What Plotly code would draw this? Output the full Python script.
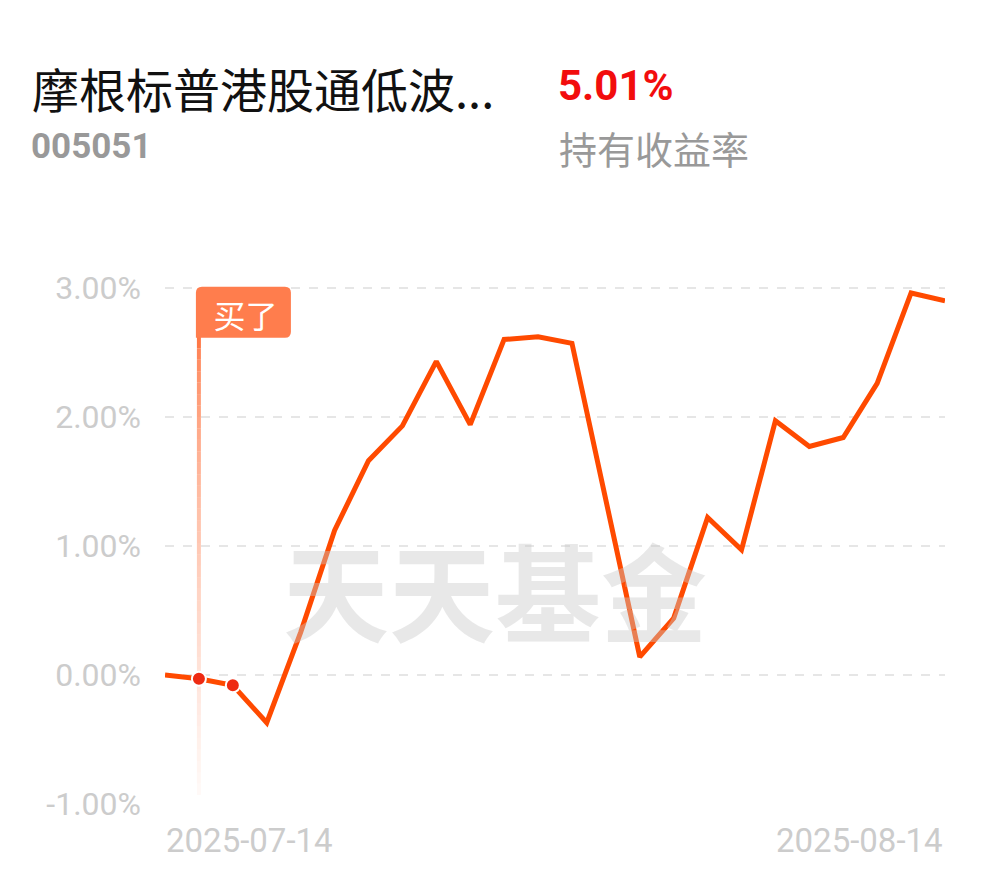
import plotly.graph_objects as go

dates = ["2025-07-14","2025-07-15","2025-07-16","2025-07-17","2025-07-18",
         "2025-07-21","2025-07-22","2025-07-23","2025-07-24","2025-07-25",
         "2025-07-28","2025-07-29","2025-07-30","2025-07-31","2025-08-01",
         "2025-08-04","2025-08-05","2025-08-06","2025-08-07","2025-08-08",
         "2025-08-11","2025-08-12","2025-08-13","2025-08-14"]
returns = [0.00, -0.03, -0.08, -0.37, 0.33, 1.12, 1.66, 1.93, 2.43, 1.94,
           2.60, 2.62, 2.57, 1.36, 0.14, 0.44, 1.22, 0.97, 1.97, 1.77,
           1.84, 2.26, 2.96, 2.90]
y_ticks = [-1, 0, 1, 2, 3]
y_tick_labels = ["-1.00%", "0.00%", "1.00%", "2.00%", "3.00%"]
buy_index = 1
dot_indices = [1, 2]
fund_name = "摩根标普港股通低波..."
fund_code = "005051"
hold_return = "5.01%"
hold_label = "持有收益率"
buy_label = "买了"
watermark = "天天基金"

idx = list(range(len(dates)))
font_cn = "Noto Sans CJK SC, Roboto, sans-serif"

# page offset (body margin 8px) compensated via margins
PW, PH = 780, 542
def px(xp):  # page x -> paper
    return (xp - 165) / PW
def py(yp):  # page y -> paper
    return (804 - yp) / PH

shapes = []
# gradient buy line (segments with fading opacity)
top_y, bot_y = 2.62, -0.93
n = 40
for i in range(n):
    y0 = top_y - (top_y - bot_y) * i / n
    y1 = top_y - (top_y - bot_y) * (i + 1) / n
    op = max(0.03, 1 - (i / n) ** 0.6 * 0.97)
    shapes.append(dict(type="line", xref="x", yref="y", x0=buy_index, x1=buy_index,
                       y0=y0, y1=y1, line=dict(color="rgba(255,120,70,%.3f)" % op, width=4),
                       layer="below"))

# rounded label box anchored at buy point / 3% line (pixel sized)
r = 6
x0b, x1b, y0b, y1b = -3, 92, -50, 1
path = (f"M {x0b+r},{y1b} L {x1b-r},{y1b} Q {x1b},{y1b} {x1b},{y1b-r} "
        f"L {x1b},{y0b+r} Q {x1b},{y0b} {x1b-r},{y0b} L {x0b},{y0b} "
        f"L {x0b},{y1b-r} Q {x0b},{y1b} {x0b+r},{y1b} Z")
shapes.append(dict(type="path", xref="x", yref="y", xsizemode="pixel", ysizemode="pixel",
                   xanchor=buy_index, yanchor=3.0, path=path,
                   fillcolor="#ff7d4d", line=dict(width=0), layer="above"))

fig = go.Figure()
fig.add_trace(go.Scatter(x=idx, y=returns, mode="lines",
                         line=dict(color="#ff4a00", width=5), hoverinfo="skip"))
fig.add_trace(go.Scatter(x=[idx[i] for i in dot_indices], y=[returns[i] for i in dot_indices],
                         mode="markers",
                         marker=dict(color="#ee2a12", size=14, line=dict(color="white", width=2)),
                         hoverinfo="skip"))

annotations = [
    dict(text=fund_name, xref="paper", yref="paper", x=px(30), y=py(87),
         xanchor="left", yanchor="middle", showarrow=False,
         font=dict(family=font_cn, size=47, color="#111111")),
    dict(text="<b>" + fund_code + "</b>", xref="paper", yref="paper", x=px(29), y=py(146),
         xanchor="left", yanchor="middle", showarrow=False,
         font=dict(family="Roboto, sans-serif", size=35, color="#999999")),
    dict(text="<b>" + hold_return + "</b>", xref="paper", yref="paper", x=px(556), y=py(86),
         xanchor="left", yanchor="middle", showarrow=False,
         font=dict(family="Roboto, sans-serif", size=42, color="#f20d0d")),
    dict(text=hold_label, xref="paper", yref="paper", x=px(557), y=py(147),
         xanchor="left", yanchor="middle", showarrow=False,
         font=dict(family=font_cn, size=38, color="#999999")),
    dict(text="<b>" + watermark + "</b>", xref="paper", yref="paper", x=px(495), y=py(588),
         xanchor="center", yanchor="middle", showarrow=False,
         font=dict(family=font_cn, size=106, color="rgba(200,200,200,0.42)")),
    dict(text=buy_label, xref="x", yref="y", x=buy_index, y=3.0,
         xanchor="left", yanchor="top", showarrow=False,
         xshift=-3, yshift=1, width=95, height=50, align="center", valign="middle",
         font=dict(family=font_cn, size=32, color="white")),
    dict(text=dates[0], xref="x", yref="paper", x=0, y=py(840),
         xanchor="left", yanchor="middle", showarrow=False, xshift=-1,
         font=dict(family="Roboto, sans-serif", size=33, color="#cccccc")),
    dict(text=dates[-1], xref="x", yref="paper", x=len(dates) - 1, y=py(840),
         xanchor="right", yanchor="middle", showarrow=False,
         font=dict(family="Roboto, sans-serif", size=33, color="#cccccc")),
]

fig.update_layout(
    width=982, height=870,
    margin=dict(l=157, r=45, t=254, b=74),
    paper_bgcolor="white", plot_bgcolor="white",
    showlegend=False,
    shapes=shapes,
    annotations=annotations,
    hovermode=False,
    xaxis=dict(range=[0, len(dates) - 1], showgrid=False, zeroline=False,
               showticklabels=False, fixedrange=True),
    yaxis=dict(range=[-1, 3.2], tickvals=y_ticks, ticktext=y_tick_labels,
               showgrid=True, gridcolor="#e6e6e6", griddash="dash", gridwidth=2,
               zeroline=False, ticks="", ticklabelstandoff=23, fixedrange=True,
               tickfont=dict(family="Roboto, sans-serif", size=32, color="#cccccc")),
)

fig.write_html("out.html", config={"displayModeBar": False})
